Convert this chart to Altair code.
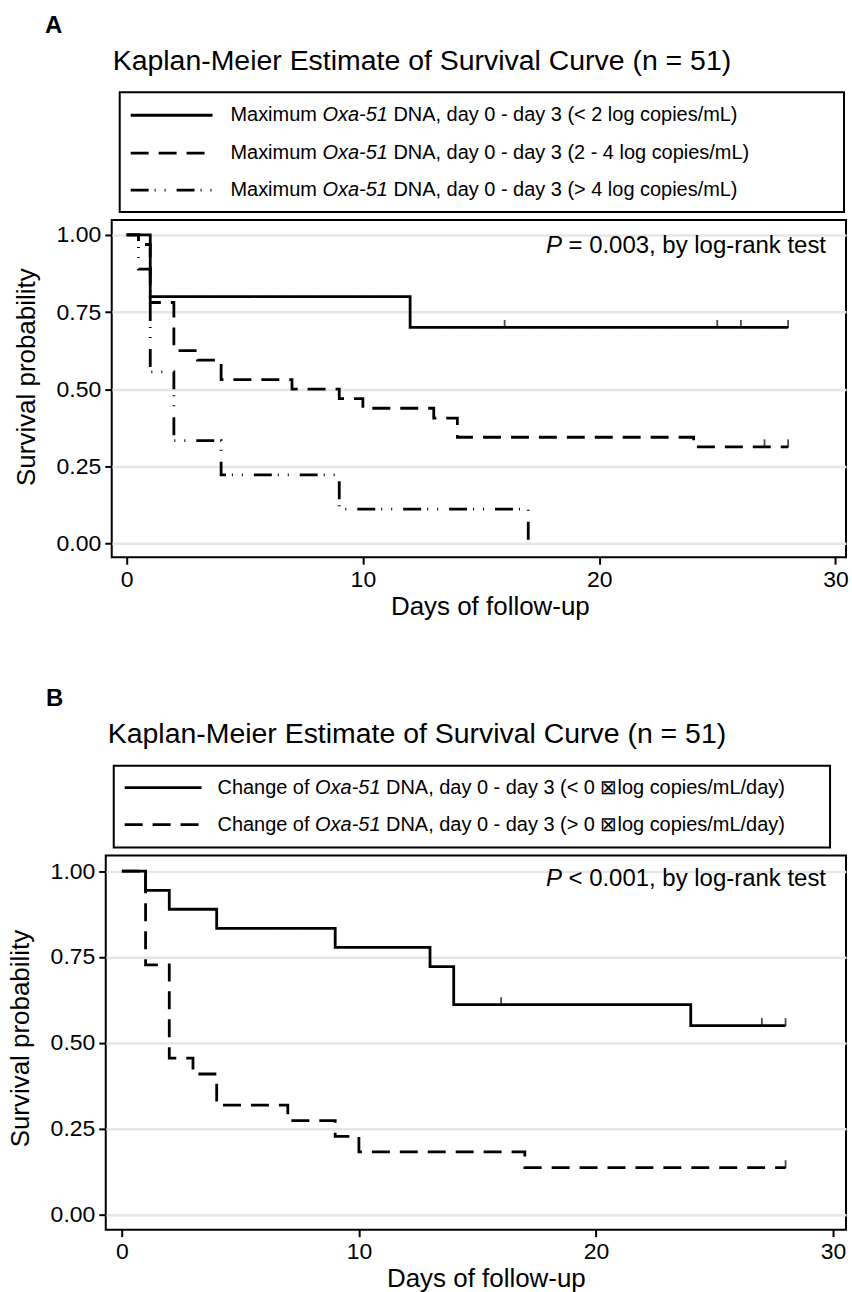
import altair as alt
import pandas as pd

FONT = "Liberation Sans"

# ---------------- data ----------------
# Panel A: maximum Oxa-51 DNA, day 0 - day 3
a_groups = ["lt2", "mid", "gt4"]
a_lt2_days = [0, 1, 12, 28]
a_lt2_surv = [1.0, 0.800, 0.700, 0.700]
a_lt2_cens = [16, 25, 26, 28]

a_mid_days = [0, 0.5, 1, 2, 3, 4, 7, 9, 10, 13, 14, 24, 28]
a_mid_surv = [1.0, 0.969, 0.781, 0.625, 0.594, 0.531, 0.500, 0.469, 0.438, 0.406, 0.344, 0.313, 0.313]
a_mid_cens = [27, 28]

a_gt4_days = [0, 0.5, 1, 2, 4, 9, 17]
a_gt4_surv = [1.0, 0.889, 0.556, 0.333, 0.222, 0.111, 0.0]
a_gt4_cens = []

# Panel B: change of Oxa-51 DNA, day 0 - day 3
b_groups = ["neg", "pos"]
b_neg_days = [0, 1, 2, 4, 9, 13, 14, 24, 28]
b_neg_surv = [1.0, 0.944, 0.889, 0.833, 0.778, 0.722, 0.611, 0.550, 0.550]
b_neg_cens = [16, 27, 28]

b_pos_days = [0, 1, 2, 3, 4, 7, 9, 10, 17, 28]
b_pos_surv = [1.0, 0.727, 0.455, 0.409, 0.318, 0.273, 0.227, 0.182, 0.136, 0.136]
b_pos_cens = [28]

x_ticks = [0, 10, 20, 30]
y_ticks = [0.0, 0.25, 0.50, 0.75, 1.0]

title_text = "Kaplan-Meier Estimate of Survival Curve (n = 51)"
a_legend = [
    ("Maximum", "Oxa-51", "DNA, day 0 - day 3 (< 2 log copies/mL)"),
    ("Maximum", "Oxa-51", "DNA, day 0 - day 3 (2 - 4 log copies/mL)"),
    ("Maximum", "Oxa-51", "DNA, day 0 - day 3 (> 4 log copies/mL)"),
]
b_legend = [
    ("Change of", "Oxa-51", "DNA, day 0 - day 3 (< 0 \u22a0log copies/mL/day)"),
    ("Change of", "Oxa-51", "DNA, day 0 - day 3 (> 0 \u22a0log copies/mL/day)"),
]
a_ptext = ("P", "= 0.003, by log-rank test")
b_ptext = ("P", "< 0.001, by log-rank test")

# ---------------- styles ----------------
SOLID = [1, 0]
DASH = [18, 10]
DASHDOT = [18, 6, 1, 9, 1, 11]
LW = 2.8

# Arial advance widths (per 1000 em) for placing mixed-style text runs
AW = {"M": 833, "a": 556, "x": 500, "i": 222, "m": 833, "u": 556, " ": 278,
      "C": 722, "h": 556, "n": 556, "g": 556, "e": 556, "o": 556, "f": 278,
      "O": 778, "-": 333, "5": 556, "1": 556, "P": 667}


def tw(s, size):
    return sum(AW.get(c, 556) for c in s) * size / 1000.0


def curve_frame(groups, days_list, surv_list):
    rows = []
    for g, ds, ss in zip(groups, days_list, surv_list):
        for k, (d, s) in enumerate(zip(ds, ss)):
            rows.append({"group": g, "day": d, "surv": s, "k": k})
    return pd.DataFrame(rows)


def surv_at(days, surv, t):
    v = surv[0]
    for d, s in zip(days, surv):
        if d <= t:
            v = s
    return v


def cens_frame(groups, days_list, surv_list, cens_list):
    rows = []
    for g, ds, ss, cs in zip(groups, days_list, surv_list, cens_list):
        for c in cs:
            rows.append({"group": g, "day": c, "surv": surv_at(ds, ss, c)})
    return pd.DataFrame(rows)


def text_layer(s, x, y, size, style="normal", weight="normal", align="left",
               baseline="alphabetic"):
    return alt.Chart(pd.DataFrame({"t": [s]})).mark_text(
        align=align, baseline=baseline, font=FONT, fontSize=size,
        fontStyle=style, fontWeight=weight, color="black"
    ).encode(x=alt.value(x), y=alt.value(y), text="t:N")


def rule_layer(x1, x2, y, dash, width=LW):
    return alt.Chart(pd.DataFrame({"d": [0]})).mark_rule(
        color="black", strokeWidth=width, strokeDash=dash, strokeCap="butt"
    ).encode(x=alt.value(x1), x2=alt.value(x2), y=alt.value(y))


def box_layer(x1, x2, y1, y2, sw=2):
    return alt.Chart(pd.DataFrame({"d": [0]})).mark_rect(
        fill="white", fillOpacity=0, stroke="black", strokeWidth=sw
    ).encode(x=alt.value(x1), x2=alt.value(x2), y=alt.value(y1), y2=alt.value(y2))


def dot_layer(x1, y1):
    # tiny white pixel used to pin the page origin / extent
    return alt.Chart(pd.DataFrame({"d": [0]})).mark_rect(
        color="white", strokeWidth=0
    ).encode(x=alt.value(x1), x2=alt.value(x1 + 1), y=alt.value(y1), y2=alt.value(y1 + 1))


def panel(curves, cens, groups, dashes, xdom, ydom, w, h, ytitle_y, xtitle_x,
          letter, letter_xy, title_xy, box, line_x, text_x, row_ys, legend_rows,
          ptext, p_right, p_base, extra=()):
    leg_fs = 20
    p_fs = 24
    xe = alt.X("day:Q", scale=alt.Scale(domain=xdom, nice=False, zero=False),
               axis=alt.Axis(values=x_ticks, title="Days of follow-up", grid=False,
                             titleX=xtitle_x, titleY=57, titleBaseline="alphabetic",
                             titleAlign="center"))
    ye = alt.Y("surv:Q", scale=alt.Scale(domain=ydom, nice=False, zero=False),
               axis=alt.Axis(values=y_ticks, format=".2f", title="Survival probability",
                             grid=True, gridColor="#e6e6e6", gridWidth=2.5,
                             titleX=-77, titleY=ytitle_y, titleAngle=270,
                             titleBaseline="alphabetic", titleAlign="center"))
    lines = alt.Chart(curves).mark_line(
        interpolate="step-after", color="black", strokeWidth=LW, strokeCap="butt"
    ).encode(
        x=xe, y=ye,
        strokeDash=alt.StrokeDash("group:N", scale=alt.Scale(domain=groups, range=dashes),
                                  legend=None),
        detail="group:N", order="k:Q")
    ticks = alt.Chart(cens).mark_tick(
        orient="vertical", color="black", size=8, thickness=1.8, yOffset=-3.5
    ).encode(x=xe, y=ye)

    layers = [lines, ticks]
    layers.append(text_layer(letter, letter_xy[0], letter_xy[1], 24, weight="bold"))
    layers.append(text_layer(title_text, title_xy[0], title_xy[1], 28.5))
    layers.append(box_layer(*box))
    for (a, b, c), ry, dash in zip(legend_rows, row_ys, dashes):
        layers.append(rule_layer(line_x[0], line_x[1], ry, dash))
        x0 = text_x
        x1 = x0 + tw(a + " ", leg_fs)
        x2 = x1 + tw(b + " ", leg_fs)
        layers.append(text_layer(a, x0, ry, leg_fs, baseline="middle"))
        layers.append(text_layer(b, x1, ry, leg_fs, style="italic", baseline="middle"))
        layers.append(text_layer(c, x2, ry, leg_fs, baseline="middle"))
    # P annotation
    total = 11.701 * p_fs
    px = p_right - total
    layers.append(text_layer(ptext[0], px, p_base, p_fs, style="italic"))
    layers.append(text_layer(ptext[1], px + tw("P ", p_fs), p_base, p_fs))
    layers.extend(extra)
    return alt.layer(*layers).properties(
        width=w, height=h, view=alt.ViewBackground(stroke="black", strokeWidth=2))


curvesA = curve_frame(a_groups, [a_lt2_days, a_mid_days, a_gt4_days],
                      [a_lt2_surv, a_mid_surv, a_gt4_surv])
censA = cens_frame(a_groups, [a_lt2_days, a_mid_days, a_gt4_days],
                   [a_lt2_surv, a_mid_surv, a_gt4_surv], [a_lt2_cens, a_mid_cens, a_gt4_cens])
curvesB = curve_frame(b_groups, [b_neg_days, b_pos_days], [b_neg_surv, b_pos_surv])
censB = cens_frame(b_groups, [b_neg_days, b_pos_days], [b_neg_surv, b_pos_surv],
                   [b_neg_cens, b_pos_cens])

# Panel A plot area sits at page (111, 218); panel B at (105, 855)
panelA = panel(
    curvesA, censA, a_groups, [SOLID, DASH, DASHDOT],
    xdom=[-0.63, 30.45], ydom=[-0.045, 1.0485], w=736, h=338,
    ytitle_y=157, xtitle_x=379,
    letter="A", letter_xy=(-67, -187), title_xy=(1, -150),
    box=(8, 734, -128, -8), line_x=(19, 101), text_x=119, row_ys=[-105, -67, -30],
    legend_rows=a_legend, ptext=a_ptext, p_right=716, p_base=33,
    extra=[dot_layer(-111, -218), dot_layer(740, 1073)],
)
panelB = panel(
    curvesB, censB, b_groups, [SOLID, DASH],
    xdom=[-0.68, 30.55], ydom=[-0.0445, 1.0456], w=742, h=375,
    ytitle_y=183, xtitle_x=381,
    letter="B", letter_xy=(-60, -150), title_xy=(2, -113),
    box=(8, 726, -90, -8), line_x=(19, 96), text_x=112, row_ys=[-68, -31],
    legend_rows=b_legend, ptext=b_ptext, p_right=722, p_base=31,
)

spacer = alt.Chart(pd.DataFrame({"d": [0]})).mark_point(opacity=0).properties(width=6, height=10)
rowA = alt.hconcat(spacer, panelA, spacing=0, bounds="flush")

chart = alt.vconcat(rowA, panelB, spacing=637, bounds="flush").properties(
    padding=0, background="white"
).configure_view(stroke=None).configure_axis(
    labelFont=FONT, labelFontSize=23, labelColor="black",
    titleFont=FONT, titleFontSize=26, titleFontWeight="normal", titleColor="black",
    tickColor="black", tickWidth=2, tickSize=7, domain=False, labelPadding=4,
)

chart.save("out.html", embed_options={"renderer": "svg", "actions": False})
